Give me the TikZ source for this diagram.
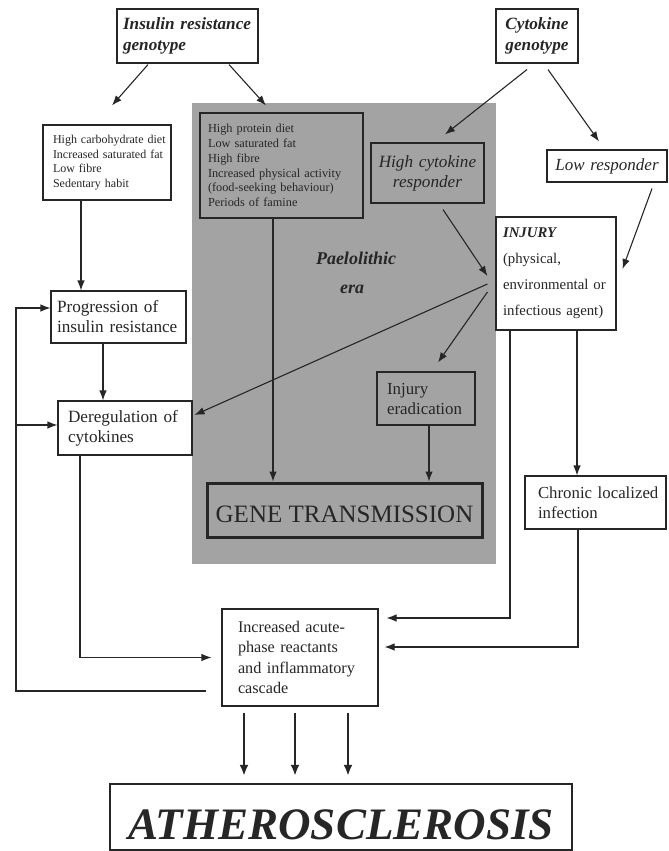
\documentclass[tikz,border=0pt]{standalone}
\usepackage{fontspec}
\setmainfont{Liberation Serif}
\usetikzlibrary{arrows.meta}
\newcommand{\setfs}[2]{\fontsize{#1}{#2}\selectfont}
\definecolor{paleo}{gray}{0.64}

\begin{document}
\begin{tikzpicture}[x=1pt,y=-1pt,->,>={Latex[length=10pt,width=7.5pt]},line width=1.1pt,color=black!85,
  box/.style={draw,fill=white,align=left,inner ysep=0pt},
  bigarrow/.style={line width=2pt,-{Latex[length=11pt,width=9pt]},shorten >=7pt}]

\useasboundingbox (0,0) rectangle (669,851);
\fill[paleo] (192,103) rectangle (496,564);

\node[box,font=\bfseries\itshape\setfs{17.2}{21},text width=129pt,inner xsep=6pt,minimum height=54pt] (insgen) at (187.5,36) {\mbox{Insulin resistance}\\genotype};
\node[box,font=\bfseries\itshape\setfs{17.2}{21},align=center,text width=70pt,inner xsep=6pt,minimum height=54pt] (cytgen) at (537,36) {Cytokine\\genotype};

\node[box,font=\setfs{12}{14.7},text width=108pt,inner xsep=10pt,minimum height=75pt] (hcdiet) at (107,162.5) {\mbox{High carbohydrate diet}\\\mbox{Increased saturated fat}\\Low fibre\\Sedentary habit};
\node[box,fill=none,font=\setfs{12.3}{14.8},text width=147pt,inner xsep=8pt,minimum height=105pt] (hpdiet) at (281.5,165.5) {High protein diet\\Low saturated fat\\High fibre\\Increased physical activity\\(food-seeking behaviour)\\Periods of famine};

\node[box,fill=none,font=\itshape\setfs{17.2}{20},align=center,text width=103pt,inner xsep=5pt,minimum height=60pt] (hcresp) at (427.5,173) {High cytokine\\responder};
\node[box,font=\itshape\setfs{17}{20},align=center,text width=110pt,inner xsep=5pt,minimum height=32pt] (lowresp) at (607,166) {Low responder};
\node[box,font=\setfs{14.8}{26},text width=106pt,inner xsep=7pt,minimum height=113pt] (injury) at (556,273.5) {\textbf{\textit{INJURY}}\\(physical,\\\mbox{environmental or}\\\mbox{infectious agent)}};

\node[font=\bfseries\itshape\setfs{18}{29},align=left] (paleolbl) at (356,273) {Paelolithic\\\hspace*{24pt}era};

\node[box,font=\setfs{17.2}{20},text width=123pt,inner xsep=6pt,minimum height=52pt] (progress) at (118.5,317) {Progression of\\\mbox{insulin resistance}};
\node[box,font=\setfs{17.2}{20},text width=114pt,inner xsep=10pt,minimum height=54pt] (dereg) at (125,428) {Deregulation of\\cytokines};
\node[box,fill=none,font=\setfs{16.9}{20},text width=78pt,inner xsep=10pt,minimum height=53pt] (erad) at (426,398.5) {Injury\\eradication};
\node[box,fill=none,line width=3pt,font=\setfs{25}{30},align=center,minimum width=275pt,minimum height=54pt,text height=25.5pt] (gene) at (344.5,510) {GENE TRANSMISSION};
\node[box,font=\setfs{16.8}{20},text width=115pt,inner xsep=13pt,minimum height=53pt] (chronic) at (595.5,502.5) {\mbox{Chronic localized}\\infection};
\node[box,font=\setfs{16.2}{20.3},text width=124pt,inner xsep=16pt,minimum height=97pt] (cascade) at (300,657.5) {Increased acute-\\phase reactants\\\mbox{and inflammatory}\\cascade};
\node[box,line width=2.5pt,font=\bfseries\itshape\setfs{45}{50},align=center,minimum width=462pt,minimum height=66pt,text height=46pt] (athero) at (341,817) {ATHEROSCLEROSIS};

% genotypes
\draw ([xshift=-39.5pt,yshift=-1pt]insgen.south) -- ([xshift=5pt,yshift=19pt]hcdiet.north);
\draw ([xshift=41.5pt,yshift=-1pt]insgen.south) -- ([xshift=-15.5pt,yshift=7pt]hpdiet.north);
\draw ([xshift=-10pt,yshift=-6pt]cytgen.south) -- ([xshift=17.5pt,yshift=8pt]hcresp.north);
\draw ([xshift=11pt,yshift=-6pt]cytgen.south) -- ([xshift=-8pt,yshift=8pt]lowresp.north);

% injury
\draw ([xshift=15.5pt,yshift=-6pt]hcresp.south) -- ([xshift=-8pt,yshift=-2.5pt]injury.west);
\draw ([xshift=45pt,yshift=-6pt]lowresp.south) -- ([xshift=6pt,yshift=4.5pt]injury.east);
\draw ([xshift=-8pt,yshift=-10.5pt]injury.west) -- ([xshift=2pt,yshift=13pt]dereg.east);
\draw ([xshift=-8pt,yshift=-18.5pt]injury.west) -- ([xshift=12pt,yshift=9pt]erad.north);

% gene transmission
\draw ([xshift=-8.5pt]hpdiet.south) -- ([xshift=-8.5pt]hpdiet.south |- gene.north);
\draw ([xshift=3pt]erad.south) -- ([xshift=3pt]erad.south |- gene.north);

% left column
\draw ([xshift=-26pt]hcdiet.south) -- ([xshift=-26pt]hcdiet.south |- progress.north);
\draw ([xshift=-15.5pt]progress.south) -- ([xshift=-15.5pt]progress.south |- dereg.north);

% to the cascade
\draw ([xshift=21pt]injury.south) -- ([xshift=21pt]injury.south |- chronic.north);
\draw ([xshift=-46pt]injury.south) |- ([xshift=8pt,yshift=39.5pt]cascade.east);
\draw ([xshift=-17.5pt]chronic.south) |- ([xshift=6pt,yshift=10.5pt]cascade.east);
\draw ([xshift=-45pt]dereg.south) |- ([xshift=-10pt]cascade.west);

% feedback
\coordinate (fbk) at (16,691);
\draw ([xshift=-15pt,yshift=-33.5pt]cascade.west) -- (fbk) |- ([yshift=9pt]progress.west);
\draw ([yshift=3pt]fbk |- dereg.west) -- ([yshift=3pt]dereg.west);

\foreach \dx in {-56,-5,48}
  \draw[bigarrow] ([xshift=\dx pt,yshift=-6pt]cascade.south) -- ([xshift=\dx pt]cascade.south |- athero.north);

\end{tikzpicture}
\end{document}
